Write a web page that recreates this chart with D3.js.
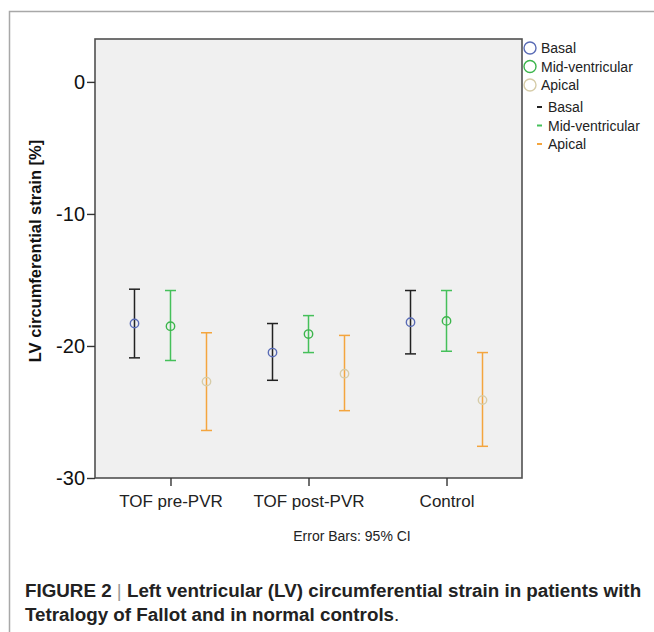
<!DOCTYPE html>
<html>
<head>
<meta charset="utf-8">
<script src="https://cdn.jsdelivr.net/npm/d3@7"></script>
<style>
  body { margin: 0; background: #fff; }
  svg { display: block; font-family: "Liberation Sans", Arial, sans-serif; }
</style>
</head>
<body>
<svg id="chart" width="654" height="632"></svg>
<script>
// groups on the x axis and the three LV levels
var groups = ['TOF pre-PVR', 'TOF post-PVR', 'Control'];
var levels = ['Basal', 'Mid-ventricular', 'Apical'];

// mean and 95% CI, one entry per group
var basalMean = [-18.3, -20.5, -18.2];
var basalLow  = [-20.9, -22.6, -20.6];
var basalHigh = [-15.7, -18.3, -15.8];

var midMean = [-18.5, -19.1, -18.1];
var midLow  = [-21.1, -20.5, -20.4];
var midHigh = [-15.8, -17.7, -15.8];

var apicalMean = [-22.7, -22.1, -24.1];
var apicalLow  = [-26.4, -24.9, -27.6];
var apicalHigh = [-19.0, -19.2, -20.5];

var yTicks = [0, -10, -20, -30];

var dotColors = ['#5a6cb6', '#3cb54c', '#d6cca8'];
var barColors = ['#222222', '#45c05a', '#f4a53e'];

var series = [
  { mean: basalMean, low: basalLow, high: basalHigh },
  { mean: midMean, low: midLow, high: midHigh },
  { mean: apicalMean, low: apicalLow, high: apicalHigh }
];

var svg = d3.select('#chart');

// outer figure frame (only left and top edges show)
svg.append('path')
  .attr('d', 'M9.5,632V11.5H654')
  .attr('fill', 'none').attr('stroke', '#a8a8a8').attr('stroke-width', 1.5);

var plot = { left: 95, right: 522, top: 39, bottom: 478 };

var x = d3.scalePoint().domain(groups).range([plot.left, plot.right]).padding(0.547);
var dx = d3.scalePoint().domain(levels).range([-36, 36]);
var y = d3.scaleLinear().domain([-30, 3.25]).range([plot.bottom, plot.top]);

svg.append('rect')
  .attr('x', plot.left).attr('y', plot.top)
  .attr('width', plot.right - plot.left).attr('height', plot.bottom - plot.top)
  .attr('fill', '#f0f0f0').attr('stroke', '#505050').attr('stroke-width', 1.6);

// axes
var yAxis = svg.append('g')
  .attr('transform', 'translate(' + plot.left + ',0)')
  .call(d3.axisLeft(y).tickValues(yTicks).tickSize(8).tickPadding(2).tickFormat(function(d) { return String(d); }));
yAxis.select('.domain').remove();
yAxis.selectAll('line').attr('stroke', '#333').attr('stroke-width', 1.4);
yAxis.selectAll('text').attr('font-size', 20).attr('fill', '#111')
  .attr('font-family', '"Liberation Sans", Arial, sans-serif');

var xAxis = svg.append('g')
  .attr('transform', 'translate(0,' + plot.bottom + ')')
  .call(d3.axisBottom(x).tickSize(8).tickPadding(9));
xAxis.select('.domain').remove();
xAxis.selectAll('line').attr('stroke', '#333').attr('stroke-width', 1.4);
xAxis.selectAll('text').attr('font-size', 17).attr('fill', '#222')
  .attr('font-family', '"Liberation Sans", Arial, sans-serif');

svg.append('text')
  .attr('transform', 'translate(41,251) rotate(-90)')
  .attr('text-anchor', 'middle')
  .attr('font-size', 16.5).attr('font-weight', 'bold').attr('fill', '#111')
  .text('LV circumferential strain [%]');

// error bars and means
series.forEach(function(s, i) {
  var g = svg.append('g');
  groups.forEach(function(grp, j) {
    var cx = x(grp) + dx(levels[i]);
    g.append('line')
      .attr('x1', cx).attr('x2', cx)
      .attr('y1', y(s.low[j])).attr('y2', y(s.high[j]))
      .attr('stroke', barColors[i]).attr('stroke-width', 1.5);
    [s.low[j], s.high[j]].forEach(function(v) {
      g.append('line')
        .attr('x1', cx - 5.5).attr('x2', cx + 5.5)
        .attr('y1', y(v)).attr('y2', y(v))
        .attr('stroke', barColors[i]).attr('stroke-width', 1.5);
    });
    g.append('circle')
      .attr('cx', cx).attr('cy', y(s.mean[j])).attr('r', 4.2)
      .attr('fill', 'none').attr('stroke', dotColors[i]).attr('stroke-width', 1.4);
  });
});

// legend: markers then error bar keys
var legend = svg.append('g').attr('font-size', 14).attr('fill', '#222');
levels.forEach(function(name, i) {
  var ly = 48 + i * 18.5;
  legend.append('circle')
    .attr('cx', 530).attr('cy', ly).attr('r', 6)
    .attr('fill', 'none').attr('stroke', dotColors[i]).attr('stroke-width', 1.4);
  legend.append('text').attr('x', 541).attr('y', ly + 5).text(name);
});
levels.forEach(function(name, i) {
  var ly = 107 + i * 18.5;
  legend.append('line')
    .attr('x1', 537).attr('x2', 542).attr('y1', ly).attr('y2', ly)
    .attr('stroke', barColors[i]).attr('stroke-width', 2);
  legend.append('text').attr('x', 548).attr('y', ly + 5).text(name);
});

svg.append('text')
  .attr('x', 352).attr('y', 541).attr('text-anchor', 'middle')
  .attr('font-size', 14).attr('fill', '#222')
  .text('Error Bars: 95% CI');

// caption
var cap = svg.append('g').attr('font-size', 18.8).attr('fill', '#222');
var line1 = cap.append('text').attr('x', 25).attr('y', 597);
line1.append('tspan').attr('font-weight', 'bold').text('FIGURE 2 ');
line1.append('tspan').attr('fill', '#999').attr('font-weight', 'normal').text('|');
line1.append('tspan').attr('font-weight', 'bold').text(' Left ventricular (LV) circumferential strain in patients with');
var line2 = cap.append('text').attr('x', 25).attr('y', 621);
line2.append('tspan').attr('font-weight', 'bold').text('Tetralogy of Fallot and in normal controls');
line2.append('tspan').text('.');
</script>
</body>
</html>
